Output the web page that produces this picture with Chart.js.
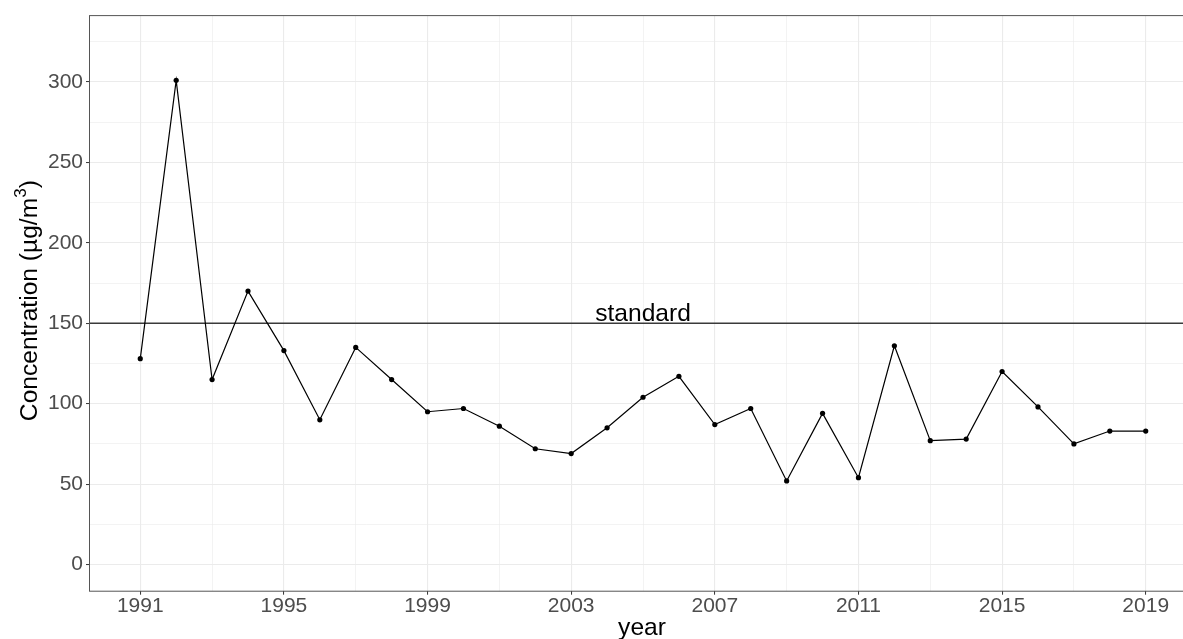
<!DOCTYPE html>
<html>
<head>
<meta charset="utf-8">
<script src="https://cdn.jsdelivr.net/npm/chart.js@4.4.1/dist/chart.umd.min.js"></script>
<style>
  html, body { margin: 0; padding: 0; background: #fff; overflow: hidden; }
  #wrap { position: absolute; left: 0; top: 0; width: 1200px; height: 639px; }
</style>
</head>
<body>
<div id="wrap"><canvas id="c"></canvas></div>
<script>
const years = [1991,1992,1993,1994,1995,1996,1997,1998,1999,2000,2001,2002,2003,2004,2005,2006,2007,2008,2009,2010,2011,2012,2013,2014,2015,2016,2017,2018,2019];
const concentration = [128,301,115,170,133,90,135,115,95,97,86,72,69,85,104,117,87,97,52,94,54,136,77,78,120,98,75,83,83];
const xMajorTicks = [1991,1995,1999,2003,2007,2011,2015,2019];
const xMinorTicks = [1993,1997,2001,2005,2009,2013,2017];
const yMajorTicks = [0,50,100,150,200,250,300];
const yMinorTicks = [25,75,125,175,225,275,325];
const standardValue = 150;
const standardLabel = 'standard';
const standardLabelYear = 2005;
const xTitle = 'year';
const yTitleMain = 'Concentration (\u00B5g/m';
const yTitleSup = '3';
const yTitleEnd = ')';

const FONT = "'Liberation Sans', Arial, Helvetica, sans-serif";
const TITLE_SIZE = 24.6;

const xAll = xMajorTicks.concat(xMinorTicks).sort((a,b)=>a-b);
const yAll = yMajorTicks.concat(yMinorTicks).sort((a,b)=>a-b);
const isMajorX = v => xMajorTicks.includes(v);
const isMajorY = v => yMajorTicks.includes(v);

const decorPlugin = {
  id: 'decor',
  beforeDatasetsDraw(chart) {
    const {ctx, chartArea: a, scales: {x, y}} = chart;
    const yy = y.getPixelForValue(standardValue);
    ctx.save();
    ctx.strokeStyle = '#3a3a3a';
    ctx.lineWidth = 1.4;
    ctx.beginPath();
    ctx.moveTo(a.left, yy);
    ctx.lineTo(a.right, yy);
    ctx.stroke();
    ctx.fillStyle = '#000';
    ctx.font = TITLE_SIZE + 'px ' + FONT;
    ctx.textAlign = 'center';
    ctx.textBaseline = 'alphabetic';
    ctx.fillText(standardLabel, x.getPixelForValue(standardLabelYear), yy - 2.5);
    ctx.restore();
  },
  afterDraw(chart) {
    const {ctx, chartArea: a} = chart;
    ctx.save();
    ctx.strokeStyle = '#555';
    ctx.lineWidth = 1;
    ctx.strokeRect(a.left - 0.5, a.top, a.right - a.left + 0.5, a.bottom - a.top + 0.5);
    // x title
    ctx.fillStyle = '#000';
    ctx.font = TITLE_SIZE + 'px ' + FONT;
    ctx.textAlign = 'center';
    ctx.textBaseline = 'alphabetic';
    ctx.fillText(xTitle, (a.left + a.right) / 2 - 1, 635);
    // y title rotated
    const cy = (a.top + a.bottom) / 2 - 2.5;
    ctx.translate(36.5, cy);
    ctx.rotate(-Math.PI / 2);
    ctx.font = TITLE_SIZE + 'px ' + FONT;
    const w1 = ctx.measureText(yTitleMain).width;
    ctx.font = '17px ' + FONT;
    const w2 = ctx.measureText(yTitleSup).width;
    ctx.font = TITLE_SIZE + 'px ' + FONT;
    const w3 = ctx.measureText(yTitleEnd).width;
    let sx = -(w1 + w2 + w3) / 2;
    ctx.textAlign = 'left';
    ctx.fillText(yTitleMain, sx, 0);
    sx += w1;
    ctx.font = '17px ' + FONT;
    ctx.fillText(yTitleSup, sx, -11);
    sx += w2;
    ctx.font = TITLE_SIZE + 'px ' + FONT;
    ctx.fillText(yTitleEnd, sx, 0);
    ctx.restore();
  }
};

new Chart(document.getElementById('c'), {
  type: 'line',
  data: {
    datasets: [{
      data: years.map((yr, i) => ({x: yr, y: concentration[i]})),
      borderColor: '#000',
      borderWidth: 1.2,
      backgroundColor: '#000',
      pointRadius: 2.6,
      pointBorderWidth: 0,
      pointBackgroundColor: '#000',
      tension: 0,
      fill: false
    }]
  },
  options: {
    responsive: true,
    maintainAspectRatio: false,
    devicePixelRatio: 1,
    animation: false,
    events: [],
    layout: { padding: { left: 0, top: 12.5, right: 2.4, bottom: 0 } },
    plugins: { legend: { display: false }, tooltip: { enabled: false } },
    scales: {
      x: {
        type: 'linear',
        min: 1989.6,
        max: 2020.4,
        afterBuildTicks: s => { s.ticks = xAll.map(v => ({value: v})); },
        afterFit: s => { s.height = 48.3; },
        border: { display: false },
        grid: {
          color: '#EBEBEB',
          lineWidth: c => (c.tick && isMajorX(c.tick.value)) ? 1.1 : 0.6,
          tickColor: c => (c.tick && isMajorX(c.tick.value)) ? '#333' : 'rgba(0,0,0,0)',
          tickLength: 4,
          tickWidth: 1
        },
        ticks: {
          autoSkip: false,
          maxRotation: 0,
          minRotation: 0,
          padding: -1,
          color: '#4D4D4D',
          font: { family: FONT, size: 21 },
          callback: v => isMajorX(v) ? String(v) : ''
        }
      },
      y: {
        type: 'linear',
        min: -16.25,
        max: 341.25,
        afterBuildTicks: s => { s.ticks = yAll.map(v => ({value: v})); },
        afterFit: s => { s.width = 90; },
        border: { display: false },
        grid: {
          color: '#EBEBEB',
          lineWidth: c => (c.tick && isMajorY(c.tick.value)) ? 1.1 : 0.6,
          tickColor: c => (c.tick && isMajorY(c.tick.value)) ? '#333' : 'rgba(0,0,0,0)',
          tickLength: 4,
          tickWidth: 1
        },
        ticks: {
          autoSkip: false,
          padding: 3,
          color: '#4D4D4D',
          font: { family: FONT, size: 21 },
          callback: v => isMajorY(v) ? String(v) : ''
        }
      }
    }
  },
  plugins: [decorPlugin]
});
</script>
</body>
</html>
